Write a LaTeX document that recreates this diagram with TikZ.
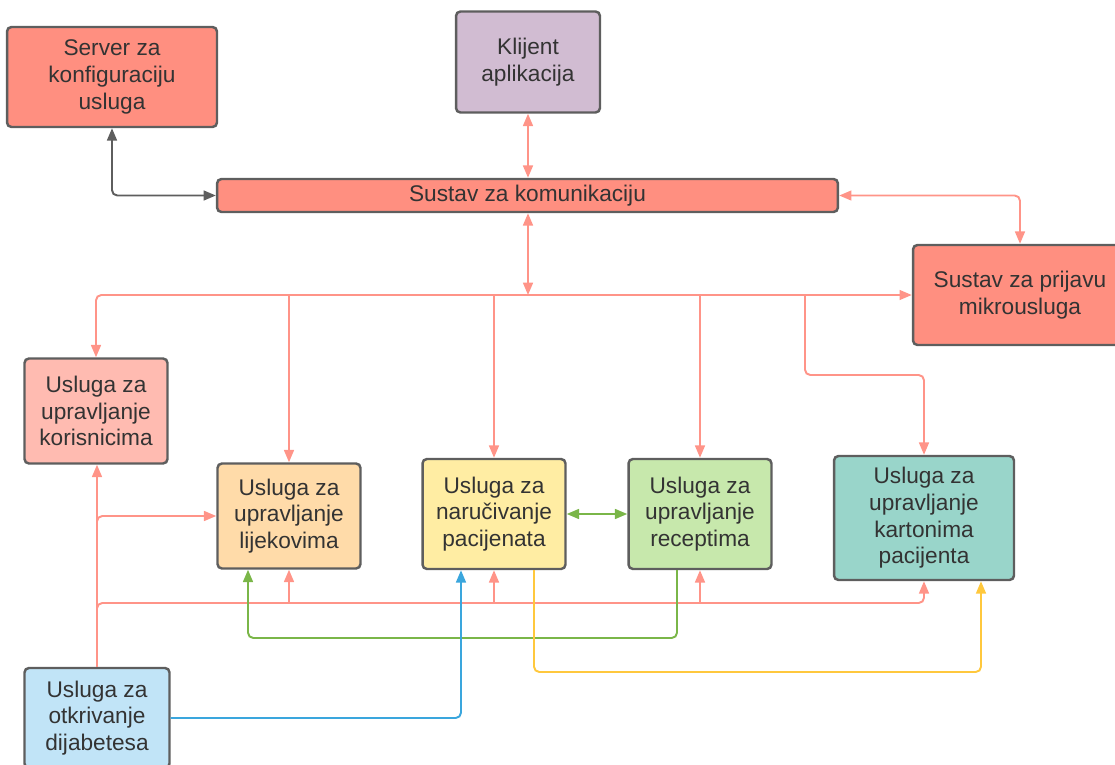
\documentclass[tikz,border=0pt]{standalone}
\usepackage{fontspec}
\setmainfont{Liberation Sans}
\usetikzlibrary{arrows.meta,calc}

\definecolor{redbox}{HTML}{FF8F80}
\definecolor{lilac}{HTML}{D1BCD2}
\definecolor{pinkbox}{HTML}{FFBBB1}
\definecolor{orangebox}{HTML}{FFDBA9}
\definecolor{yellowbox}{HTML}{FFEDA3}
\definecolor{greenbox}{HTML}{C7E8AC}
\definecolor{tealbox}{HTML}{99D5CA}
\definecolor{bluebox}{HTML}{C1E4F7}
\definecolor{edge}{HTML}{5E5E5E}
\definecolor{txt}{HTML}{333333}
\definecolor{pinkline}{HTML}{FF9488}
\definecolor{greenline}{HTML}{7AB648}
\definecolor{blueline}{HTML}{3AA6DD}
\definecolor{yellowline}{HTML}{FFC83D}

\begin{document}
\begin{tikzpicture}[x=0.02cm,y=-0.02cm,
    box/.style={draw=edge,line width=1.4pt,rounded corners=2.5pt,align=center,
        text=txt,inner sep=0pt,font=\fontsize{12.9}{15.2}\selectfont},
    link/.style={line width=1.1pt,rounded corners=3pt},
    >={Triangle[length=7pt,width=5.6pt]}]

\useasboundingbox (0,0) rectangle (1115,764);

\node[box,fill=redbox,minimum width=4.2cm,minimum height=2cm] (srv) at (112,77) {Server za\\konfiguraciju\\usluga};
\node[box,fill=lilac,minimum width=2.88cm,minimum height=2.02cm] (kli) at (528,62) {Klijent\\aplikacija};
\node[box,fill=redbox,minimum width=12.42cm,minimum height=0.66cm] (kom) at (527.5,195.5) {Sustav za komunikaciju};
\node[box,fill=redbox,minimum width=4.28cm,minimum height=2cm] (prij) at (1020,295) {Sustav za prijavu\\mikrousluga};

\node[box,fill=pinkbox,minimum width=2.86cm,minimum height=2.1cm] (kor) at (96,411) {Usluga za\\upravljanje\\korisnicima};
\node[box,fill=orangebox,minimum width=2.86cm,minimum height=2.1cm] (lij) at (289,516) {Usluga za\\upravljanje\\lijekovima};
\node[box,fill=yellowbox,minimum width=2.86cm,minimum height=2.2cm] (nar) at (494,514) {Usluga za\\naručivanje\\pacijenata};
\node[box,fill=greenbox,minimum width=2.86cm,minimum height=2.2cm] (rec) at (700,514) {Usluga za\\upravljanje\\receptima};
\node[box,fill=tealbox,minimum width=3.6cm,minimum height=2.48cm] (kar) at (924,518) {Usluga za\\upravljanje\\kartonima\\pacijenta};
\node[box,fill=bluebox,minimum width=2.9cm,minimum height=2cm] (dia) at (97,718) {Usluga za\\otkrivanje\\dijabetesa};

\coordinate (kbend) at (805,375);
\coordinate (lowbus) at (0,603);
\coordinate (grbus) at (0,638);
\coordinate (yebus) at (0,672);

\draw[link,draw=edge,<->] (srv.south) |- (kom.west);
\draw[link,draw=pinkline,<->] (kli.south) -- (kli.south |- kom.north);
\draw[link,draw=pinkline,<->] (kli.south |- kom.south) -- (kli.south |- prij.west);
\draw[link,draw=pinkline,<->] (kom.east) -| (prij.north);

\draw[link,draw=pinkline,<->] (kor.north) |- (prij.west);
\foreach \n in {lij,nar,rec}
    \draw[link,draw=pinkline,->] (\n.north |- prij.west) -- (\n.north);
\draw[link,draw=pinkline,->] (kbend |- prij.west) -- (kbend) -| (kar.north);

\draw[link,draw=pinkline,->] (dia.north) -- (dia.north |- kor.south);
\draw[link,draw=pinkline,->] (dia.north |- lowbus) |- (lij.west);
\draw[link,draw=pinkline,->] (dia.north) |- (kar.south |- lowbus) -- (kar.south);
\foreach \n in {lij,nar,rec}
    \draw[link,draw=pinkline,->] (\n.south |- lowbus) -- (\n.south);

\draw[link,draw=greenline,<->] (nar.east) -- (rec.west);
\draw[link,draw=greenline,->] ($(rec.south)+(-23,0)$) |- (grbus -| {$(lij.south)+(-41,0)$}) -- ($(lij.south)+(-41,0)$);
\draw[link,draw=blueline,->] (dia.east) -| ($(nar.south)+(-33,0)$);
\draw[link,draw=yellowline,->] ($(nar.south)+(40,0)$) |- (yebus -| {$(kar.south)+(57,0)$}) -- ($(kar.south)+(57,0)$);

\end{tikzpicture}
\end{document}
